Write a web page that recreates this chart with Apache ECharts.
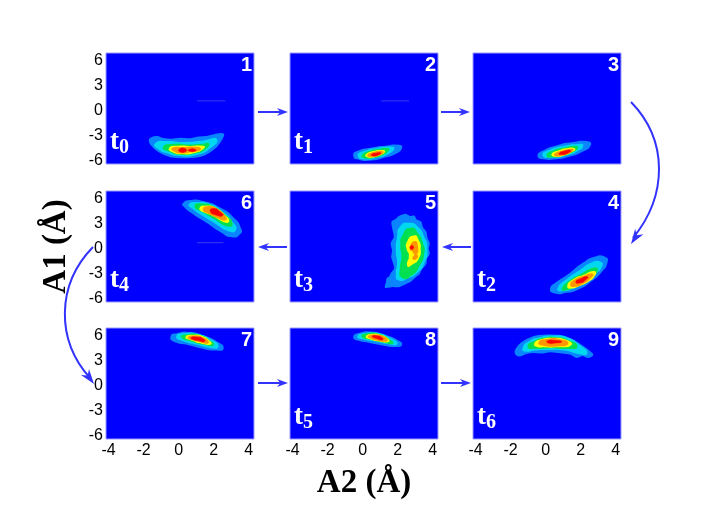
<!DOCTYPE html>
<html>
<head>
<meta charset="utf-8">
<style>html,body{margin:0;padding:0;background:#fff}#c{width:706px;height:530px}</style>
<script src="https://cdn.jsdelivr.net/npm/echarts@6/dist/echarts.min.js"></script>
</head>
<body>
<div id="c"></div>
<script>
// Filled density contours: [band, [[A2, A1], ...]]
const panel1 = [
 [0,[[-1.65,-3.68],[-1.45,-3.4],[-1.23,-3.35],[-0.85,-3.6],[-0.47,-3.68],[0.1,-3.55],[0.67,-3.62],[1.15,-3.4],[1.61,-3.36],[2.18,-3.05],[2.55,-3.05],[2.4,-3.75],[2.09,-4.6],[1.42,-5.5],[0.48,-5.8],[-0.47,-5.68],[-1.14,-5.08],[-1.6,-4.16]]],
 [1,[[-1.32,-4.19],[-0.66,-3.95],[0.28,-4.07],[1.42,-3.88],[2.14,-3.68],[1.71,-4.75],[1.05,-5.39],[0.1,-5.56],[-0.66,-5.2],[-1.14,-4.75]]],
 [2,[[-0.85,-4.6],[-0.28,-4.28],[0.48,-4.36],[1.42,-4.28],[1.69,-4.19],[1.52,-4.75],[0.95,-5.23],[0.1,-5.39],[-0.47,-5.08]]],
 [3,[[-0.51,-4.75],[-0.09,-4.51],[0.67,-4.55],[1.42,-4.51],[1.4,-4.67],[0.95,-5.15],[0.19,-5.32],[-0.28,-5.15]]],
 [4,[[-0.34,-4.75],[0.28,-4.67],[1.14,-4.67],[1.19,-4.87],[0.67,-5.08],[0.1,-5.23],[-0.19,-5.08]]],
 [5,[[0.05,-4.8],[0.4,-4.8],[0.4,-5.1],[0.05,-5.1]]],
 [5,[[0.6,-4.85],[0.95,-4.85],[0.95,-5.05],[0.6,-5.05]]]
];
const panel2 = [
 [0,[[-0.49,-5.59],[-0.26,-5.11],[0.46,-4.75],[1.41,-4.48],[2.07,-4.4],[2.2,-4.67],[1.88,-5.27],[1.22,-5.75],[0.46,-6.07],[-0.2,-5.99]]],
 [1,[[-0.24,-5.59],[0.18,-5.08],[0.84,-4.79],[1.6,-4.6],[1.75,-4.79],[1.41,-5.35],[0.84,-5.75],[0.18,-5.95]]],
 [2,[[-0.01,-5.59],[0.36,-5.15],[0.93,-4.91],[1.44,-4.79],[1.44,-4.99],[1.13,-5.44],[0.65,-5.75],[0.18,-5.83]]],
 [3,[[0.21,-5.51],[0.55,-5.19],[1.13,-5.03],[1.22,-5.15],[0.99,-5.44],[0.55,-5.71],[0.31,-5.71]]],
 [4,[[0.33,-5.51],[0.65,-5.27],[1.07,-5.11],[1.13,-5.23],[0.84,-5.55],[0.46,-5.68]]],
 [5,[[0.5,-5.47],[0.8,-5.27],[1.03,-5.27],[0.93,-5.47],[0.65,-5.63]]]
];
const panel3 = [
 [0,[[-0.42,-5.59],[-0.13,-5.08],[0.62,-4.48],[1.57,-4.07],[2.42,-3.99],[2.52,-4.36],[2.14,-4.99],[1.38,-5.59],[0.62,-5.91],[-0.13,-5.91]]],
 [1,[[-0.13,-5.55],[0.24,-4.99],[1.0,-4.55],[1.85,-4.31],[2.1,-4.4],[1.8,-4.99],[1.19,-5.47],[0.43,-5.75]]],
 [2,[[0.09,-5.55],[0.43,-5.08],[1.1,-4.72],[1.72,-4.52],[1.8,-4.67],[1.48,-5.15],[0.91,-5.55],[0.34,-5.71]]],
 [3,[[0.38,-5.44],[0.72,-5.08],[1.28,-4.79],[1.63,-4.79],[1.48,-5.08],[1.04,-5.47],[0.62,-5.63]]],
 [4,[[0.53,-5.44],[0.91,-5.11],[1.34,-4.91],[1.53,-4.91],[1.28,-5.27],[0.91,-5.51],[0.66,-5.59]]],
 [5,[[0.76,-5.35],[1.1,-5.03],[1.42,-4.99],[1.28,-5.27],[0.91,-5.47]]]
];
const panel4 = [
 [0,[[0.3,-5.0],[0.62,-4.32],[1.28,-3.4],[2.14,-2.0],[2.8,-1.28],[3.37,-1.28],[3.47,-1.93],[3.18,-2.89],[2.61,-4.0],[1.85,-5.0],[1.19,-5.4],[0.53,-5.47]]],
 [1,[[0.72,-5.0],[1.19,-4.0],[1.95,-2.89],[2.61,-2.0],[3.09,-1.84],[3.18,-2.32],[2.8,-3.2],[2.23,-4.2],[1.57,-4.88],[1.0,-5.2]]],
 [2,[[0.96,-5.0],[1.38,-4.12],[2.05,-3.32],[2.71,-2.6],[2.93,-2.72],[2.71,-3.4],[2.14,-4.32],[1.57,-4.8],[1.19,-5.08]]],
 [3,[[1.28,-4.72],[1.57,-4.0],[2.23,-3.4],[2.77,-3.0],[2.77,-3.4],[2.42,-4.08],[1.85,-4.64],[1.48,-4.88]]],
 [4,[[1.44,-4.52],[1.67,-4.0],[2.23,-3.52],[2.65,-3.28],[2.52,-3.72],[2.14,-4.28],[1.67,-4.68]]],
 [5,[[1.72,-4.2],[2.05,-3.75],[2.4,-3.6],[2.3,-3.9],[2.0,-4.3]]]
];
const panel5 = [
 [0,[[2.07,3.58],[2.25,3.75],[2.45,3.87],[2.7,3.6],[2.92,3.66],[3.05,3.2],[3.3,2.98],[3.4,2.3],[3.59,1.78],[3.65,1.05],[3.78,0.39],[3.72,-0.2],[3.78,-0.8],[3.62,-1.4],[3.59,-2.0],[3.35,-2.6],[3.21,-3.2],[3.0,-3.55],[2.73,-4.08],[2.4,-4.4],[2.07,-4.72],[1.7,-4.7],[1.31,-4.8],[1.38,-4.25],[1.41,-3.8],[1.55,-3.6],[1.64,-3.2],[1.85,-2.6],[1.79,-2.0],[1.68,-1.2],[1.73,-0.41],[1.65,0.4],[1.83,1.19],[1.75,2.1],[1.69,2.98],[1.9,3.25]]],
 [1,[[2.17,2.38],[2.64,2.79],[3.11,2.38],[3.46,1.19],[3.64,-0.2],[3.49,-1.81],[3.11,-3.0],[2.55,-3.68],[2.07,-3.92],[1.94,-3.2],[2.01,-2.0],[1.94,-0.41],[2.01,1.19]]],
 [2,[[2.32,1.39],[2.73,2.19],[3.11,1.59],[3.4,0.39],[3.46,-0.8],[3.21,-2.2],[2.73,-3.4],[2.26,-3.6],[2.17,-2.6],[2.26,-1.21],[2.2,0.19]]],
 [3,[[2.58,0.59],[2.92,1.27],[3.15,0.79],[3.26,-0.2],[3.15,-1.4],[2.83,-2.0],[2.58,-2.2],[2.69,-1.0],[2.55,-0.2]]],
 [4,[[2.73,-0.2],[2.96,0.59],[3.11,-0.01],[3.03,-0.8],[2.83,-0.41]]],
 [4,[[2.95,-1.1],[3.1,-1.0],[3.05,-1.35],[2.9,-1.4]]],
 [5,[[2.72,0.05],[2.85,0.15],[2.88,-0.2],[2.75,-0.25]]]
];
const panel6 = [
 [0,[[0.28,5.18],[0.67,5.5],[1.42,5.38],[2.37,4.59],[3.13,3.39],[3.51,2.19],[3.47,1.59],[3.03,1.27],[2.47,1.78],[1.61,2.98],[0.85,3.99],[0.38,4.78]]],
 [1,[[0.63,5.1],[1.05,5.26],[1.71,5.1],[2.47,4.18],[3.03,2.98],[3.22,2.07],[2.84,1.99],[2.18,2.79],[1.42,3.78],[0.85,4.59]]],
 [2,[[0.95,4.86],[1.42,5.1],[1.99,4.71],[2.65,3.78],[3.03,2.79],[2.75,2.59],[2.09,3.39],[1.42,4.18]]],
 [3,[[1.23,4.59],[1.61,4.86],[2.09,4.59],[2.65,3.66],[2.84,3.1],[2.56,3.1],[1.99,3.78],[1.52,4.18]]],
 [4,[[1.42,4.5],[1.8,4.78],[2.18,4.47],[2.65,3.58],[2.65,3.27],[2.27,3.51],[1.8,3.99]]],
 [5,[[1.8,4.3],[2.03,4.59],[2.37,4.18],[2.52,3.78],[2.18,3.78]]]
];
const panel7 = [
 [0,[[-0.42,5.62],[-0.09,5.98],[0.67,6.1],[1.42,5.69],[2.18,4.97],[2.52,4.3],[2.18,4.1],[1.42,4.3],[0.48,4.81],[-0.19,5.09]]],
 [1,[[-0.09,5.69],[0.38,5.98],[1.05,5.89],[1.8,5.29],[2.22,4.49],[1.8,4.42],[1.05,4.81],[0.28,5.21]]],
 [2,[[0.19,5.62],[0.57,5.85],[1.14,5.81],[1.71,5.21],[1.96,4.69],[1.52,4.78],[0.85,5.09]]],
 [3,[[0.44,5.62],[0.85,5.77],[1.33,5.65],[1.76,5.05],[1.8,4.81],[1.33,4.93],[0.76,5.29]]],
 [4,[[0.57,5.57],[0.95,5.69],[1.33,5.53],[1.65,5.09],[1.61,4.93],[1.23,5.09],[0.82,5.33]]],
 [5,[[0.7,5.53],[1.05,5.62],[1.42,5.37],[1.46,5.09],[1.14,5.17],[0.82,5.33]]]
];
const panel8 = [
 [0,[[-0.49,5.69],[-0.2,6.01],[0.46,6.17],[1.22,5.81],[1.94,5.21],[2.2,4.69],[1.88,4.54],[1.22,4.69],[0.36,5.05],[-0.26,5.29]]],
 [1,[[-0.26,5.69],[0.18,6.01],[0.84,6.01],[1.5,5.49],[1.94,4.81],[1.41,4.89],[0.65,5.21],[0.08,5.41]]],
 [2,[[-0.01,5.69],[0.36,5.98],[0.93,5.89],[1.5,5.29],[1.69,4.89],[1.22,5.05],[0.55,5.33]]],
 [3,[[0.23,5.69],[0.55,5.89],[1.03,5.77],[1.44,5.29],[1.44,5.09],[0.93,5.21],[0.46,5.41]]],
 [4,[[0.36,5.69],[0.69,5.81],[1.09,5.69],[1.37,5.29],[1.31,5.17],[0.84,5.29],[0.5,5.49]]],
 [5,[[0.55,5.69],[0.8,5.77],[1.13,5.49],[1.13,5.29],[0.84,5.41]]]
];
const panel9 = [
 [0,[[-1.69,4.1],[-1.36,4.9],[-0.7,5.62],[0.06,5.81],[1.0,5.69],[1.67,5.09],[2.23,4.3],[2.67,3.5],[2.42,3.22],[2.1,3.45],[1.76,3.22],[1.45,3.6],[1.19,3.7],[0.7,3.8],[0.24,3.89],[-0.25,3.75],[-0.7,3.82],[-1.1,3.7],[-1.5,3.38],[-1.7,3.6]]],
 [1,[[-1.27,4.3],[-0.99,4.97],[-0.32,5.49],[0.43,5.69],[1.19,5.49],[1.85,4.69],[2.33,3.7],[1.85,3.7],[1.1,4.1],[0.15,4.18],[-0.61,4.1],[-1.18,3.98]]],
 [2,[[-0.99,4.49],[-0.61,5.09],[-0.04,5.45],[0.62,5.49],[1.28,5.17],[1.76,4.49],[1.28,4.3],[0.24,4.37],[-0.61,4.3]]],
 [3,[[-0.61,4.81],[-0.32,5.21],[0.43,5.41],[1.1,5.21],[1.42,4.69],[0.62,4.49],[-0.13,4.49],[-0.48,4.54]]],
 [4,[[-0.36,4.97],[0.06,5.29],[0.81,5.29],[1.23,4.81],[0.62,4.6],[-0.13,4.69]]],
 [5,[[0.09,5.14],[0.53,5.21],[0.91,5.05],[0.53,4.9],[0.15,4.9]]]
];
const faintLine1 = [[1.05,0.96],[2.66,0.96]];
const faintLine2 = [[1.07,0.96],[2.64,0.96]];
const faintLine6 = [[1.05,0.51],[2.56,0.51]];
const xTicks = [-4,-2,0,2,4];
const yTicks = [-6,-3,0,3,6];

const bandColors = ['#0a84ff','#00d8f0','#00e050','#ffff00','#ff9800','#ff0000'];
const lefts = [106,290,473], tops = [53,191,328];
// reading order of the panels on the page (row by row)
const layout = [panel1,panel2,panel3,panel6,panel5,panel4,panel7,panel8,panel9];
const layoutNames = ['1','2','3','6','5','4','7','8','9'];
const layoutT = ['0','1',null,'4','3','2',null,'5','6'];
const faint = {0:faintLine1,1:faintLine2,3:faintLine6};

const grids=[],xAxes=[],yAxes=[],series=[],graphic=[];
layout.forEach((bands,i)=>{
  const col=i%3,row=Math.floor(i/3),L=lefts[col],T=tops[row];
  grids.push({left:L,top:T,width:148,height:111,show:true,backgroundColor:'#0000ff',borderColor:'#9a9aff',borderWidth:1});
  xAxes.push({gridIndex:i,type:'value',min:-4.15,max:4.3,interval:0.05,splitLine:{show:false},axisLine:{show:false},axisTick:{show:false},
    name:i===7?'A2 (Å)':'',nameLocation:'middle',nameGap:28,
    nameTextStyle:{fontFamily:'Liberation Serif',fontWeight:'bold',fontSize:33,color:'#000'},
    axisLabel:{show:row===2,margin:4,fontFamily:'Liberation Sans',fontSize:16,color:'#000',showMinLabel:true,showMaxLabel:true,
      formatter:v=>{const r=Math.round(v);return Math.abs(v-r)<1e-6&&xTicks.includes(r)?String(r):'';}}});
  yAxes.push({gridIndex:i,type:'value',min:-6.6,max:6.7,interval:0.1,splitLine:{show:false},axisLine:{show:false},axisTick:{show:false},
    name:i===3?'A1 (Å)':'',nameLocation:'middle',nameGap:33,nameRotate:90,
    nameTextStyle:{fontFamily:'Liberation Serif',fontWeight:'bold',fontSize:33,color:'#000'},
    axisLabel:{show:col===0,margin:3,
      rich:{n:{fontFamily:'Liberation Sans',fontSize:16,color:'#000',padding:[4,0,0,0]}},
      formatter:v=>{const r=Math.round(v);return Math.abs(v-r)<1e-6&&yTicks.includes(r)?'{n|'+r+'}':'';}}});
  series.push({type:'custom',xAxisIndex:i,yAxisIndex:i,clip:true,silent:true,animation:false,
    data:bands.map(b=>b[1][0]),
    renderItem:(p,api)=>{
      const b=bands[p.dataIndex],c=bandColors[b[0]];
      return {type:'polygon',shape:{points:b[1].map(q=>api.coord(q)),smooth:b[1].length>16?0.25:0.75},
        style:{fill:c,stroke:c,lineWidth:b[0]===5?0.6:1.8,lineJoin:'round'}};
    }});
  if(faint[i]) series.push({type:'line',xAxisIndex:i,yAxisIndex:i,data:faint[i],symbol:'none',silent:true,animation:false,lineStyle:{color:'#3a3af5',width:1}});
  graphic.push({type:'text',right:706-(L+148)+2,top:T+2,z:10,style:{text:layoutNames[i],fill:'#fff',font:'bold 20px "Liberation Sans"'}});
  if(layoutT[i]!==null) graphic.push({type:'text',left:L+4,top:T+76,z:10,style:{
    rich:{a:{fontFamily:'Liberation Serif',fontWeight:'bold',fontSize:27,fill:'#fff',lineHeight:30},
          b:{fontFamily:'Liberation Serif',fontWeight:'bold',fontSize:20,fill:'#fff',lineHeight:30,verticalAlign:'bottom',padding:[8,0,0,0]}},
    text:'{a|t}{b|'+layoutT[i]+'}'}});
});

const blue='#3333ff';
function head(x,y,dx,dy,len,hw){
  const n=Math.hypot(dx,dy),ux=dx/n,uy=dy/n,px=-uy,py=ux;
  return {type:'polygon',z:20,shape:{points:[[x,y],[x-ux*len+px*hw,y-uy*len+py*hw],[x-ux*len*0.7,y-uy*len*0.7],[x-ux*len-px*hw,y-uy*len-py*hw]]},style:{fill:blue}};
}
[[258,112,288,112],[441,112,470,112],[471,247,442,247],[287,247,258,247],[258,383,288,383],[441,383,471,383]].forEach(a=>{
  graphic.push({type:'line',z:20,shape:{x1:a[0],y1:a[1],x2:a[2]-(a[2]>a[0]?5:-5),y2:a[3]},style:{stroke:blue,lineWidth:2}});
  graphic.push(head(a[2],a[3],a[2]-a[0],a[3]-a[1],11,4));
});
graphic.push({type:'bezierCurve',z:20,shape:{x1:631,y1:102,cpx1:668,cpy1:140,cpx2:668,cpy2:195,x2:633,y2:238},style:{stroke:blue,lineWidth:2,fill:'none'}});
graphic.push(head(631,244,-30,45,15,5));
graphic.push({type:'bezierCurve',z:20,shape:{x1:93,y1:247,cpx1:56,cpy1:285,cpx2:56,cpy2:340,x2:90,y2:378},style:{stroke:blue,lineWidth:2,fill:'none'}});
graphic.push(head(94,384,30,40,15,5));

const chart=echarts.init(document.getElementById('c'),null,{renderer:'canvas'});
chart.setOption({animation:false,backgroundColor:'#fff',grid:grids,xAxis:xAxes,yAxis:yAxes,series,graphic});
</script>
</body>
</html>
